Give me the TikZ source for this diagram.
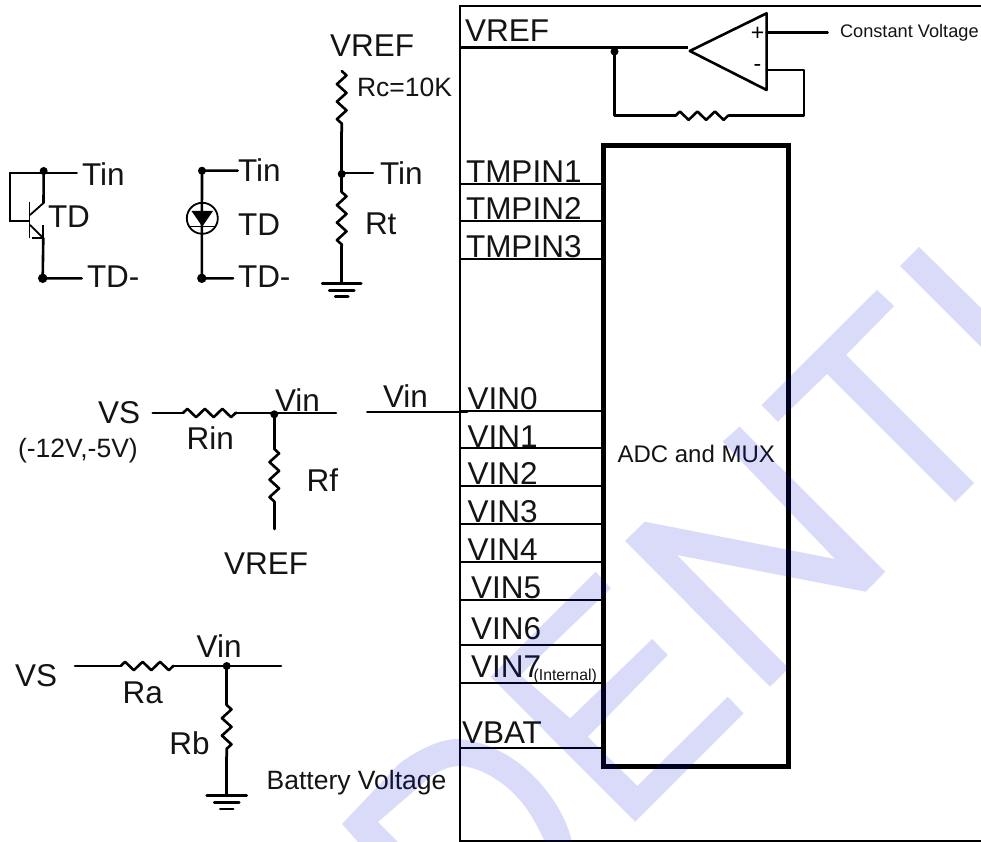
\documentclass[tikz,border=0pt]{standalone}
\usepackage{fontspec}
\setmainfont{Liberation Sans}
\usetikzlibrary{decorations.pathmorphing}
\newcommand\lblsz[1]{\fontsize{#1}{#1}\selectfont}
\definecolor{wmark}{RGB}{0,20,220}
\tikzset{
  lab/.style={inner sep=0pt,outer sep=0pt,anchor=base west,font=\lblsz{31.5},text=black!92},
  labm/.style={lab,font=\lblsz{26.5}},
  wire/.style={line width=2.6pt,line cap=round,line join=round},
  thin wire/.style={line width=1.8pt,line join=miter},
  jdot/.style={circle,fill=black,inner sep=0pt,minimum size=8pt},
  jdotb/.style={circle,fill=black,inner sep=0pt,minimum size=9.4pt},
  resv/.style={wire,decorate,decoration={zigzag,segment length=17.5pt,amplitude=4.8pt}},
  resh/.style={wire,decorate,decoration={zigzag,segment length=17.5pt,amplitude=4.2pt}},
  wm/.style={fill=wmark,fill opacity=0.15,draw=none},
}
\begin{document}
\begin{tikzpicture}[x=1pt,y=-1pt]
\useasboundingbox (0,0) rectangle (981,842);
\fill[white] (0,0) rectangle (981,842);

% outer chip outline
\coordinate (otr) at (981,6); \coordinate (otl) at (460,6);
\coordinate (obl) at (460,841); \coordinate (obr) at (981,841);
\draw[line width=1.8pt] (otr) -- (otl) -- (obl) -- (obr);

% ADC block
\node[draw,line width=5pt,outer sep=0pt,minimum width=185.5pt,minimum height=620pt,inner sep=0pt,anchor=north west] (adc) at (603,146) {};
\node[lab,font=\lblsz{24}] (adclab) at (617.5,462.7) {ADC and MUX};

% pins
\foreach \n/\y in {t1/183.7,t2/221.3,t3/259,v0/410.7,v1/448.3,v2/486,v3/523.7,v4/561.7,v5/599.7,v6/645,v7/683,vb/747.7}{
  \coordinate (p\n) at (459,\y);
  \coordinate (q\n) at (603,\y);
  \draw[line width=2.3pt] (p\n) -- (q\n);
}
\node[lab] (lt1) at (466,182.2) {TMPIN1};
\node[lab] (lt2) at (466,219.8) {TMPIN2};
\node[lab] (lt3) at (466,257.5) {TMPIN3};
\node[lab] (lv0) at (467.5,409.5) {VIN0};
\node[lab] (lv1) at (467.5,447.2) {VIN1};
\node[lab] (lv2) at (467.5,484.5) {VIN2};
\node[lab] (lv3) at (467.5,522.5) {VIN3};
\node[lab] (lv4) at (467.5,560.5) {VIN4};
\node[lab] (lv5) at (471,598) {VIN5};
\node[lab] (lv6) at (471,639) {VIN6};
\node[lab] (lv7) at (471,677.2) {VIN7};
\node[lab,font=\lblsz{15.8}] (lint) at (533.6,680) {(Internal)};
\node[lab] (lvb) at (462,743.2) {VBAT};

% op amp + VREF
\node[lab] (lvref) at (465,41.2) {VREF};
\coordinate (vl) at (460,47.7); \coordinate (ve) at (688,47.7);
\draw[line width=2.6pt] (vl) -- (ve);
\coordinate (oa) at (689.8,51); \coordinate (ob) at (766.6,13.3); \coordinate (oc) at (766.6,90);
\draw[wire,line width=2.6pt] (oa) -- (ob) -- (oc) -- cycle;
\node[inner sep=0pt,font=\lblsz{23}] (oplus) at (757.5,33.5) {+};
\node[inner sep=0pt,font=\lblsz{23}] (ominus) at (757.5,68) {-};
\coordinate (cvl) at (766.6,32.3); \coordinate (cvr) at (827.6,32.3);
\draw[wire] (cvl) -- (cvr);
\node[lab,font=\lblsz{18.2}] (lcv) at (840,37.7) {Constant Voltage};
\node[jdot] (fbd) at (614.5,51.5) {};
\coordinate (fb1) at (614.5,115.7); \coordinate (fr1) at (675.5,115.7);
\coordinate (fr2) at (729,115.7); \coordinate (fb2) at (804,115.7);
\coordinate (fb3) at (804,70); \coordinate (fb4) at (766.6,70);
\draw[wire] (fbd.center) -- (fb1) -- (fr1);
\draw[resh] (fr1) -- (fr2);
\draw[wire] (fr2) -- (fb2) -- (fb3) -- (fb4);

% transistor
\node[jdot] (td1) at (43.7,171) {};
\coordinate (td1r) at (76.7,173); \coordinate (td1l) at (43.7,173);
\draw[wire] (td1l) -- (td1r);
\coordinate (cl) at (43.5,203); \coordinate (bt) at (29.5,202); \coordinate (bb) at (29.5,238);
\coordinate (bm) at (29.5,221); \coordinate (blb) at (10.3,221); \coordinate (blt) at (10.3,173);
\coordinate (cd) at (30,215); \coordinate (ed) at (30,225); \coordinate (em) at (43.3,238);
\draw[wire] (td1.center) -- (cl);
\draw[thin wire] (cl) -- (cd);
\draw[thin wire] (bt) -- (bb);
\draw[thin wire] (bm) -- (blb) -- (blt) -- (td1l);
\draw[thin wire] (ed) -- (em);
\coordinate (ea) at (43.3,225); \coordinate (eb) at (32,238);
\draw[thin wire] (ea) -- (em) -- (eb);
\node[jdotb] (td2) at (42.7,278.3) {};
\coordinate (td2r) at (81.7,278.3);
\draw[wire] (em) -- (td2.center) -- (td2r);
\node[lab] (ltin1) at (82,186) {Tin};
\node[lab] (ltd1) at (48,227) {TD};
\node[lab] (ltdm1) at (87,287) {TD-};

% diode
\node[jdot] (dd1) at (202,170.7) {};
\node[jdotb] (dd2) at (201.8,278.3) {};
\coordinate (dd1r) at (237.7,170.7); \coordinate (dd2r) at (233,278.3);
\draw[wire] (dd1r) -- (dd1.center) -- (dd2.center) -- (dd2r);
\node[draw,circle,line width=1.8pt,inner sep=0pt,minimum size=31pt] (dcirc) at (202.3,218.3) {};
\coordinate (tra) at (191.5,211); \coordinate (trb) at (213,211); \coordinate (trc) at (202.3,226.5);
\fill (tra) -- (trb) -- (trc) -- cycle;
\coordinate (bra) at (190,226.5); \coordinate (brb) at (215,226.5);
\draw[thin wire] (bra) -- (brb);
\node[lab] (ltin2) at (238,182) {Tin};
\node[lab] (ltd2) at (238,235) {TD};
\node[lab] (ltdm2) at (238,287) {TD-};

% divider Rc / Rt
\node[lab] (lvr2) at (330,57) {VREF};
\node[labm] (lrc) at (357,97) {Rc=10K};
\coordinate (rc1) at (341.7,71); \coordinate (rc2) at (341.7,132);
\draw[resv] (rc1) -- (rc2);
\node[jdot] (rd) at (341.7,174) {};
\coordinate (rdr) at (373,173);
\draw[wire] (rc2) -- (rd.center);
\draw[wire] (rd.center) -- (341.7,173) -- (rdr);
\coordinate (rt1) at (341.7,192); \coordinate (rt2) at (341.7,246);
\draw[wire] (rd.center) -- (rt1);
\draw[resv] (rt1) -- (rt2);
\coordinate (g1) at (341.7,283.7);
\draw[wire] (rt2) -- (g1);
\draw[wire] (g1) ++(-19.5,0) -- ++(39,0);
\draw[wire] (g1) ++(-12.5,7) -- ++(25,0);
\draw[wire] (g1) ++(-6.5,13) -- ++(13,0);
\node[lab] (ltin3) at (380,185) {Tin};
\node[lab] (lrt) at (365,234) {Rt};

% Vin divider
\node[lab] (lvs1) at (98,423.3) {VS};
\node[lab,font=\lblsz{26.5}] (lrange) at (18,457) {(-12V,-5V)};
\coordinate (a1) at (152.7,413); \coordinate (a2) at (183,413); \coordinate (a3) at (236.7,413); \coordinate (a4) at (336,413);
\draw[wire] (a1) -- (a2);
\draw[resh] (a2) -- (a3);
\draw[wire] (a3) -- (a4);
\node[jdot] (ad) at (274.3,414.3) {};
\coordinate (rf1) at (274.3,449); \coordinate (rf2) at (274.3,502); \coordinate (rf3) at (274.3,529);
\draw[wire] (ad.center) -- (rf1);
\draw[resv] (rf1) -- (rf2);
\draw[wire] (rf2) -- (rf3);
\node[lab] (lvin1) at (275,411.7) {Vin};
\node[lab] (lrin) at (186.7,449) {Rin};
\node[lab] (lrf) at (306.7,491.7) {Rf};
\node[lab] (lvr3) at (224,574) {VREF};
\coordinate (vi1) at (367.3,412); \coordinate (vi2) at (467,412);
\draw[wire] (vi1) -- (vi2);
\node[lab] (lvin2) at (383,407.3) {Vin};

% Battery divider
\node[lab] (lvs2) at (15,686) {VS};
\coordinate (b1) at (75,666); \coordinate (b2) at (120.7,666); \coordinate (b3) at (173.3,666); \coordinate (b4) at (281,666);
\draw[wire] (b1) -- (b2);
\draw[resh] (b2) -- (b3);
\draw[wire] (b3) -- (b4);
\node[jdot] (bd) at (226.7,666) {};
\coordinate (rb1) at (226.7,705); \coordinate (rb2) at (226.7,757);
\draw[wire] (bd.center) -- (rb1);
\draw[resv] (rb1) -- (rb2);
\coordinate (g2) at (226.7,795.7);
\draw[wire] (rb2) -- (g2);
\draw[wire] (g2) ++(-20,0) -- ++(40,0);
\draw[wire] (g2) ++(-12.5,7) -- ++(25,0);
\draw[wire] (g2) ++(-6.5,13.3) -- ++(13,0);
\node[lab] (lvin3) at (196.7,657.3) {Vin};
\node[lab] (lra) at (122.7,703.3) {Ra};
\node[lab] (lrb) at (169.3,754) {Rb};
\node[lab,font=\lblsz{26.5}] (lbat) at (266.7,789.3) {Battery Voltage};

% watermark
\fill[wm] (919,247) -- (900,266) -- (981,347) -- (981,308) -- cycle;
\fill[wm] (877,290) -- (894,306) -- (846,355) -- (974,483) -- (955,502) -- (827,374) -- (777.8,421.7) -- (761.5,405) -- cycle;
\fill[wm] (739.5,426.7) -- (885.2,571.7) -- (865.8,591.7) -- (676.9,555) -- (788.6,668.3) -- (770,686.7) -- (625.1,541) -- (644.7,521.7) -- (835,559) -- (722.6,441.7) -- cycle;
\fill[wm] (595.6,571.7) -- (610.9,588.3) -- (520.4,675) -- (570.2,718.3) -- (652.2,639) -- (667.7,655) -- (587.8,736.7) -- (637.3,786) -- (727.7,696.7) -- (743.6,713.3) -- (635.2,821.7) -- (490.6,676.7) -- cycle;
\fill[wm] (342,824) -- (400,763) .. controls (425,745) and (445,739) .. (457,739) .. controls (490,741) and (520,760) .. (540,783) .. controls (555,800) and (567,820) .. (572,842) -- (545,842) .. controls (535,820) and (525,805) .. (517,797) .. controls (500,778) and (475,766) .. (460,766) .. controls (450,766) and (440,770) .. (430,777) -- (378,822) -- (398,842) -- (358,842) -- cycle;
\end{tikzpicture}
\end{document}
